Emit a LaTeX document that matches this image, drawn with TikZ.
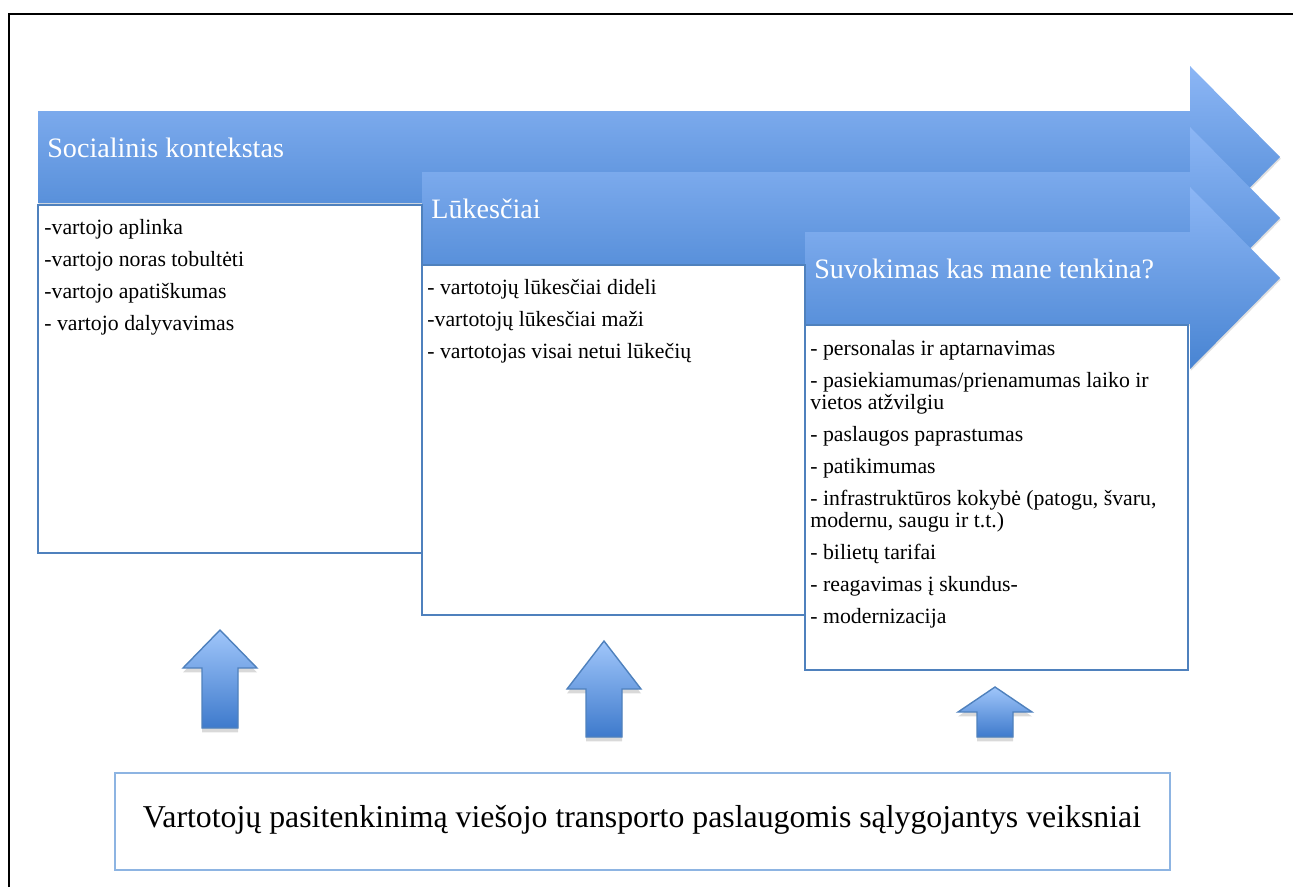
\documentclass[tikz,border=0pt]{standalone}
\usepackage{fontspec}
\setmainfont{Liberation Serif}
\usetikzlibrary{arrows.meta,positioning,shadows,calc,fit}
\definecolor{bandtop}{RGB}{140,182,245}
\definecolor{bandbot}{RGB}{72,132,210}
\definecolor{edge}{RGB}{79,129,189}
\definecolor{paleedge}{RGB}{141,180,226}
\definecolor{uptop}{RGB}{160,198,250}
\definecolor{upbot}{RGB}{62,122,204}
\tikzset{
  band/.style={top color=bandtop,bottom color=bandbot,drop shadow={opacity=0.25,shadow xshift=0.5pt,shadow yshift=-1pt}},
  bandtitle/.style={text=white,font=\fontsize{16}{18}\selectfont,anchor=west,inner sep=0pt},
  listbox/.style={draw=edge,line width=1.1pt,fill=white,inner sep=0pt},
  items/.style={font=\fontsize{12.4}{12.5}\selectfont,align=left,anchor=north west,inner sep=0pt},
  uparrow/.style={draw=edge,line width=0.8pt,top color=uptop,bottom color=upbot,drop shadow={opacity=0.3,shadow xshift=0pt,shadow yshift=-2.5pt}}
}

\begin{document}
\begin{tikzpicture}[x=0.02cm,y=-0.02cm]
    \useasboundingbox (0,0) rectangle (1293,887);
    \draw[line width=1.2pt] (9,887) -- (9,14) -- (1293,14);
    \foreach \x/\y/\n/\t in {38/111/social/Socialinis kontekstas, 422/172/lukes/Lūkesčiai, 805/232/suvok/Suvokimas kas mane tenkina?}
    {
      \path[band] (\x,\y) -- (1190,\y) -- (1190,\y-45) -- (1280,\y+46) -- (1190,\y+137) -- (1190,\y+92) -- (\x,\y+92) -- cycle;
      \node[bandtitle] (\n) at (\x+9,\y+37) {\t};
    }
    \node[listbox,fit={(38,205) (422,553)}] (socialbox) {};
    \node[listbox,fit={(422,265) (805,615)}] (lukesbox) {};
    \node[listbox,fit={(805,325) (1188,670)}] (suvokbox) {};
    \node[items] (socialitems) at ($(socialbox.north west)+(7,15)$) {-vartojo aplinka\\[5.7pt]-vartojo noras tobultėti\\[5.7pt]-vartojo apatiškumas\\[5.7pt]- vartojo dalyvavimas};
    \node[items] (lukesitems) at ($(lukesbox.north west)+(6,15)$) {- vartotojų lūkesčiai dideli\\[5.7pt]-vartotojų lūkesčiai maži\\[5.7pt]- vartotojas visai netui lūkečių};
    \node[items] (suvokitems) at ($(suvokbox.north west)+(6,16)$) {- personalas ir aptarnavimas\\[5.7pt]
      - pasiekiamumas/prienamumas laiko ir\\vietos atžvilgiu\\[5.7pt]
      - paslaugos paprastumas\\[5.7pt]
      - patikimumas\\[5.7pt]
      - infrastruktūros kokybė (patogu, švaru,\\modernu, saugu ir t.t.)\\[5.7pt]
      - bilietų tarifai\\[5.7pt]
      - reagavimas į skundus-\\[5.7pt]
      - modernizacija};
    \foreach \x/\t/\h/\b in {220/630/668/728, 604/641/689/737, 995/687/712/737}
      \path[uparrow] (\x,\t) -- (\x+37,\h) -- (\x+18,\h) -- (\x+18,\b) -- (\x-18,\b) -- (\x-18,\h) -- (\x-37,\h) -- cycle;
    \node[draw=paleedge,line width=1.1pt,inner sep=0pt,fit={(115,773) (1170,870)}] (factors) {};
    \node[font=\fontsize{18.1}{20}\selectfont,anchor=base,inner sep=0pt] (factorstext) at (642,827) {Vartotojų pasitenkinimą viešojo transporto paslaugomis sąlygojantys veiksniai};
\end{tikzpicture}
\end{document}
